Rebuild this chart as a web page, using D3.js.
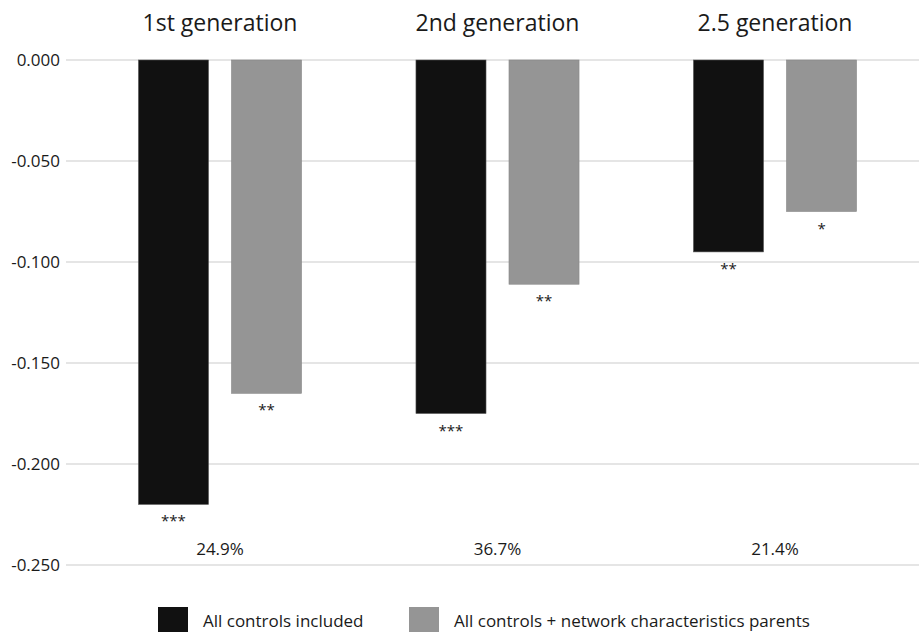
<!DOCTYPE html>
<html><head><meta charset="utf-8">
<script src="https://cdn.jsdelivr.net/npm/d3@7"></script>
<style>body{margin:0;background:#fff;} text{font-family:"Open Sans","Noto Sans",sans-serif;fill:#1a1a1a;}</style>
</head><body><svg id="c" width="919" height="632"></svg>
<script>
const categories = ["1st generation", "2nd generation", "2.5 generation"];
const seriesNames = ["All controls included", "All controls + network characteristics parents"];
const allControls = [-0.220, -0.175, -0.095];
const withNetwork = [-0.165, -0.111, -0.075];
const sigAll = ["***", "***", "**"];
const sigNet = ["**", "**", "*"];
const shares = ["24.9%", "36.7%", "21.4%"];
const yTicks = [0, -0.05, -0.1, -0.15, -0.2, -0.25];
const colors = ["#111111", "#959595"];

const svg = d3.select("#c");
const y = d3.scaleLinear().domain([0, -0.25]).range([60, 565]);
const x = d3.scaleBand().domain(categories).range([81.25, 913.75]).paddingInner(0).paddingOuter(0);
const sub = d3.scaleBand().domain([0, 1]).range([0, x.bandwidth()]).paddingInner(0.247).paddingOuter(0.615);

// grid
svg.append("g").selectAll("line").data(yTicks).join("line")
  .attr("x1", 66).attr("x2", 919)
  .attr("y1", d => y(d)).attr("y2", d => y(d))
  .attr("stroke", "#cccccc").attr("stroke-width", 1.2);

// axis labels
const fmt = d => d3.format(".3f")(d).replace("\u2212", "-");
const yAxis = d3.axisLeft(y).tickValues(yTicks).tickFormat(fmt).tickSize(0).tickPadding(0);
const ag = svg.append("g").attr("transform", "translate(60,0)").call(yAxis);
ag.select(".domain").remove();
ag.selectAll("text").attr("font-size", 17).attr("font-family", "'Open Sans','Noto Sans',sans-serif").attr("fill", "#1a1a1a");

const series = [allControls, withNetwork];
const sigs = [sigAll, sigNet];
series.forEach((vals, s) => {
  svg.append("g").selectAll("rect").data(categories).join("rect")
    .attr("x", c => x(c) + sub(s))
    .attr("width", sub.bandwidth())
    .attr("y", y(0))
    .attr("height", (c, i) => y(vals[i]) - y(0))
    .attr("fill", colors[s])
    .attr("stroke", s === 0 ? "#555" : "#888").attr("stroke-width", 0.6);
  svg.append("g").selectAll("text").data(categories).join("text")
    .attr("x", c => x(c) + sub(s) + sub.bandwidth() / 2)
    .attr("y", (c, i) => y(vals[i]) + 22)
    .attr("text-anchor", "middle").attr("font-size", 15)
    .text((c, i) => sigs[s][i]);
});

// titles
svg.append("g").selectAll("text").data(categories).join("text")
  .attr("x", c => x(c) + x.bandwidth() / 2).attr("y", 31)
  .attr("text-anchor", "middle").attr("font-size", 23)
  .text(c => c);

// shares
svg.append("g").selectAll("text").data(categories).join("text")
  .attr("x", c => x(c) + x.bandwidth() / 2).attr("y", 555)
  .attr("text-anchor", "middle").attr("font-size", 17)
  .text((c, i) => shares[i]);

// legend
const legX = [158, 409];
const lg = svg.append("g");
seriesNames.forEach((n, i) => {
  lg.append("rect").attr("x", legX[i]).attr("y", 607).attr("width", 30).attr("height", 30).attr("fill", colors[i]);
  lg.append("text").attr("x", legX[i] + 45).attr("y", 627).attr("font-size", 17).text(n);
});
</script></body></html>
